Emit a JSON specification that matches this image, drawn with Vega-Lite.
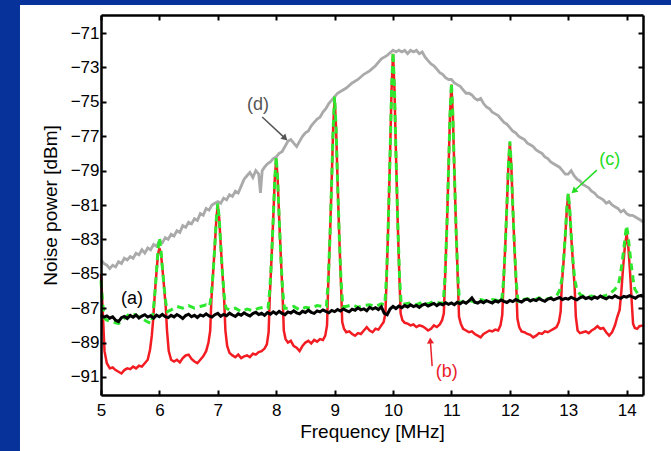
{
"$schema":"https://vega.github.io/schema/vega-lite/v6.json",
"width":542,"height":380,
"autosize":"none",
"padding":{"left":101,"top":15,"right":28,"bottom":56},
"background":"#07329a",
"config":{"view":{"stroke":null},"font":"Liberation Sans"},
"datasets":{
"d":[{"f":5.00,"v":-84.2},{"f":5.05,"v":-84.4},{"f":5.10,"v":-84.5},{"f":5.15,"v":-84.7},{"f":5.20,"v":-84.5},{"f":5.25,"v":-84.6},{"f":5.30,"v":-84.3},{"f":5.35,"v":-84.4},{"f":5.40,"v":-84.1},{"f":5.45,"v":-84.2},{"f":5.50,"v":-84.0},{"f":5.55,"v":-84.1},{"f":5.60,"v":-83.8},{"f":5.65,"v":-83.9},{"f":5.70,"v":-83.6},{"f":5.75,"v":-83.8},{"f":5.80,"v":-83.5},{"f":5.85,"v":-83.6},{"f":5.90,"v":-83.3},{"f":5.95,"v":-83.4},{"f":6.00,"v":-83.1},{"f":6.05,"v":-83.2},{"f":6.10,"v":-82.9},{"f":6.15,"v":-83.0},{"f":6.20,"v":-82.7},{"f":6.25,"v":-82.8},{"f":6.30,"v":-82.5},{"f":6.35,"v":-82.6},{"f":6.40,"v":-82.2},{"f":6.45,"v":-82.3},{"f":6.50,"v":-82.0},{"f":6.55,"v":-82.1},{"f":6.60,"v":-81.8},{"f":6.65,"v":-81.9},{"f":6.70,"v":-81.5},{"f":6.75,"v":-81.6},{"f":6.80,"v":-81.2},{"f":6.85,"v":-81.3},{"f":6.90,"v":-81.0},{"f":6.95,"v":-80.9},{"f":7.00,"v":-80.8},{"f":7.05,"v":-80.9},{"f":7.10,"v":-80.6},{"f":7.15,"v":-80.7},{"f":7.20,"v":-80.4},{"f":7.25,"v":-80.5},{"f":7.30,"v":-80.2},{"f":7.35,"v":-80.3},{"f":7.40,"v":-79.9},{"f":7.45,"v":-79.5},{"f":7.50,"v":-79.3},{"f":7.55,"v":-79.1},{"f":7.60,"v":-79.4},{"f":7.65,"v":-79.0},{"f":7.70,"v":-79.2},{"f":7.73,"v":-80.3},{"f":7.76,"v":-79.0},{"f":7.80,"v":-78.8},{"f":7.85,"v":-78.6},{"f":7.90,"v":-78.5},{"f":7.95,"v":-78.3},{"f":8.00,"v":-78.2},{"f":8.05,"v":-78.0},{"f":8.10,"v":-77.9},{"f":8.15,"v":-77.6},{"f":8.20,"v":-77.3},{"f":8.25,"v":-77.2},{"f":8.30,"v":-77.4},{"f":8.35,"v":-77.6},{"f":8.40,"v":-77.3},{"f":8.45,"v":-77.0},{"f":8.50,"v":-76.8},{"f":8.55,"v":-76.7},{"f":8.60,"v":-76.4},{"f":8.65,"v":-76.2},{"f":8.70,"v":-76.0},{"f":8.75,"v":-75.9},{"f":8.80,"v":-75.6},{"f":8.85,"v":-75.4},{"f":8.90,"v":-75.1},{"f":8.95,"v":-74.9},{"f":9.00,"v":-74.7},{"f":9.05,"v":-74.5},{"f":9.10,"v":-74.4},{"f":9.20,"v":-74.2},{"f":9.30,"v":-73.9},{"f":9.40,"v":-73.7},{"f":9.50,"v":-73.4},{"f":9.60,"v":-73.2},{"f":9.70,"v":-72.9},{"f":9.80,"v":-72.5},{"f":9.90,"v":-72.3},{"f":10.00,"v":-72.0},{"f":10.05,"v":-72.1},{"f":10.10,"v":-72.0},{"f":10.15,"v":-72.1},{"f":10.20,"v":-72.0},{"f":10.25,"v":-72.2},{"f":10.30,"v":-72.0},{"f":10.35,"v":-72.1},{"f":10.40,"v":-72.0},{"f":10.45,"v":-72.2},{"f":10.50,"v":-72.1},{"f":10.55,"v":-72.4},{"f":10.60,"v":-72.6},{"f":10.65,"v":-72.8},{"f":10.70,"v":-72.9},{"f":10.75,"v":-73.1},{"f":10.80,"v":-73.3},{"f":10.85,"v":-73.4},{"f":10.90,"v":-73.6},{"f":10.95,"v":-73.7},{"f":11.00,"v":-73.7},{"f":11.05,"v":-73.9},{"f":11.10,"v":-74.0},{"f":11.15,"v":-74.1},{"f":11.20,"v":-74.3},{"f":11.25,"v":-74.5},{"f":11.30,"v":-74.5},{"f":11.35,"v":-74.6},{"f":11.40,"v":-74.8},{"f":11.45,"v":-74.9},{"f":11.50,"v":-74.8},{"f":11.55,"v":-75.1},{"f":11.60,"v":-75.3},{"f":11.65,"v":-75.4},{"f":11.70,"v":-75.6},{"f":11.75,"v":-75.7},{"f":11.80,"v":-75.8},{"f":11.85,"v":-76.0},{"f":11.90,"v":-76.2},{"f":11.95,"v":-76.3},{"f":12.00,"v":-76.5},{"f":12.05,"v":-76.7},{"f":12.10,"v":-76.8},{"f":12.15,"v":-77.0},{"f":12.20,"v":-77.1},{"f":12.25,"v":-77.2},{"f":12.30,"v":-77.4},{"f":12.35,"v":-77.5},{"f":12.40,"v":-77.6},{"f":12.45,"v":-77.8},{"f":12.50,"v":-77.9},{"f":12.55,"v":-78.0},{"f":12.60,"v":-78.2},{"f":12.65,"v":-78.3},{"f":12.70,"v":-78.5},{"f":12.75,"v":-78.6},{"f":12.80,"v":-78.7},{"f":12.85,"v":-78.8},{"f":12.90,"v":-79.0},{"f":12.95,"v":-79.2},{"f":13.00,"v":-79.2},{"f":13.05,"v":-79.0},{"f":13.10,"v":-79.3},{"f":13.15,"v":-79.5},{"f":13.20,"v":-79.6},{"f":13.25,"v":-79.8},{"f":13.30,"v":-79.9},{"f":13.35,"v":-80.0},{"f":13.40,"v":-80.2},{"f":13.45,"v":-80.3},{"f":13.50,"v":-80.5},{"f":13.55,"v":-80.6},{"f":13.60,"v":-80.7},{"f":13.65,"v":-80.9},{"f":13.70,"v":-80.8},{"f":13.75,"v":-81.0},{"f":13.80,"v":-81.1},{"f":13.85,"v":-81.2},{"f":13.90,"v":-81.4},{"f":13.95,"v":-81.3},{"f":14.00,"v":-81.5},{"f":14.05,"v":-81.6},{"f":14.10,"v":-81.6},{"f":14.15,"v":-81.7},{"f":14.20,"v":-81.8},{"f":14.25,"v":-81.9},{"f":14.28,"v":-82.0}],
"b":[{"f":5.00,"v":-85.0},{"f":5.03,"v":-87.2},{"f":5.06,"v":-89.5},{"f":5.10,"v":-90.2},{"f":5.15,"v":-90.5},{"f":5.20,"v":-90.45},{"f":5.25,"v":-90.6},{"f":5.30,"v":-90.7},{"f":5.35,"v":-90.8},{"f":5.40,"v":-90.6},{"f":5.45,"v":-90.5},{"f":5.50,"v":-90.55},{"f":5.55,"v":-90.4},{"f":5.60,"v":-90.5},{"f":5.65,"v":-90.35},{"f":5.70,"v":-90.4},{"f":5.75,"v":-90.2},{"f":5.80,"v":-90.0},{"f":5.84,"v":-89.4},{"f":5.87,"v":-88.6},{"f":5.89,"v":-87.8},{"f":5.92,"v":-86.25},{"f":5.95,"v":-84.9},{"f":5.975,"v":-83.9},{"f":6.00,"v":-83.5},{"f":6.025,"v":-83.8},{"f":6.05,"v":-84.62},{"f":6.08,"v":-85.78},{"f":6.11,"v":-87.0},{"f":6.13,"v":-88.3},{"f":6.16,"v":-89.5},{"f":6.20,"v":-90.0},{"f":6.25,"v":-90.1},{"f":6.30,"v":-90.0},{"f":6.35,"v":-90.15},{"f":6.40,"v":-89.9},{"f":6.45,"v":-89.75},{"f":6.50,"v":-89.7},{"f":6.55,"v":-89.95},{"f":6.60,"v":-90.1},{"f":6.65,"v":-90.2},{"f":6.70,"v":-90.0},{"f":6.75,"v":-89.8},{"f":6.80,"v":-89.5},{"f":6.84,"v":-89.0},{"f":6.87,"v":-88.3},{"f":6.89,"v":-86.5},{"f":6.92,"v":-84.92},{"f":6.95,"v":-83.3},{"f":6.975,"v":-81.8},{"f":7.00,"v":-81.0},{"f":7.025,"v":-81.82},{"f":7.05,"v":-83.34},{"f":7.08,"v":-84.99},{"f":7.11,"v":-86.6},{"f":7.13,"v":-88.3},{"f":7.16,"v":-89.2},{"f":7.20,"v":-89.6},{"f":7.25,"v":-89.75},{"f":7.30,"v":-89.85},{"f":7.35,"v":-89.7},{"f":7.40,"v":-89.9},{"f":7.45,"v":-89.8},{"f":7.50,"v":-89.75},{"f":7.55,"v":-89.85},{"f":7.60,"v":-89.65},{"f":7.65,"v":-89.7},{"f":7.70,"v":-89.55},{"f":7.75,"v":-89.5},{"f":7.80,"v":-89.35},{"f":7.84,"v":-89.1},{"f":7.87,"v":-88.4},{"f":7.89,"v":-86.3},{"f":7.92,"v":-84.1},{"f":7.95,"v":-81.72},{"f":7.975,"v":-79.52},{"f":8.00,"v":-78.3},{"f":8.025,"v":-79.52},{"f":8.05,"v":-81.72},{"f":8.08,"v":-84.1},{"f":8.11,"v":-86.3},{"f":8.13,"v":-88.3},{"f":8.16,"v":-88.8},{"f":8.20,"v":-89.0},{"f":8.25,"v":-88.9},{"f":8.30,"v":-89.2},{"f":8.35,"v":-89.3},{"f":8.40,"v":-89.5},{"f":8.45,"v":-89.2},{"f":8.50,"v":-89.0},{"f":8.55,"v":-88.9},{"f":8.60,"v":-89.05},{"f":8.65,"v":-88.85},{"f":8.70,"v":-88.95},{"f":8.75,"v":-88.8},{"f":8.80,"v":-88.85},{"f":8.84,"v":-88.6},{"f":8.87,"v":-88.0},{"f":8.89,"v":-85.7},{"f":8.92,"v":-82.87},{"f":8.95,"v":-79.58},{"f":8.975,"v":-76.53},{"f":9.00,"v":-74.8},{"f":9.025,"v":-76.53},{"f":9.05,"v":-79.58},{"f":9.08,"v":-82.87},{"f":9.11,"v":-85.7},{"f":9.13,"v":-87.8},{"f":9.16,"v":-88.2},{"f":9.20,"v":-88.4},{"f":9.25,"v":-88.35},{"f":9.30,"v":-88.5},{"f":9.35,"v":-88.6},{"f":9.40,"v":-88.45},{"f":9.45,"v":-88.5},{"f":9.50,"v":-88.3},{"f":9.55,"v":-88.1},{"f":9.60,"v":-88.3},{"f":9.65,"v":-88.4},{"f":9.70,"v":-88.2},{"f":9.75,"v":-88.25},{"f":9.80,"v":-88.0},{"f":9.84,"v":-87.8},{"f":9.87,"v":-87.3},{"f":9.89,"v":-85.3},{"f":9.92,"v":-81.95},{"f":9.95,"v":-77.98},{"f":9.975,"v":-74.31},{"f":10.00,"v":-72.2},{"f":10.025,"v":-74.31},{"f":10.05,"v":-77.98},{"f":10.08,"v":-81.95},{"f":10.11,"v":-85.3},{"f":10.13,"v":-87.3},{"f":10.16,"v":-87.7},{"f":10.20,"v":-87.85},{"f":10.25,"v":-87.9},{"f":10.30,"v":-88.0},{"f":10.35,"v":-87.95},{"f":10.40,"v":-88.1},{"f":10.45,"v":-88.0},{"f":10.50,"v":-88.05},{"f":10.55,"v":-88.15},{"f":10.60,"v":-88.3},{"f":10.65,"v":-88.2},{"f":10.70,"v":-88.0},{"f":10.75,"v":-88.1},{"f":10.80,"v":-87.95},{"f":10.84,"v":-87.7},{"f":10.87,"v":-87.3},{"f":10.89,"v":-85.4},{"f":10.92,"v":-82.48},{"f":10.95,"v":-79.02},{"f":10.975,"v":-75.82},{"f":11.00,"v":-74.0},{"f":11.025,"v":-75.82},{"f":11.05,"v":-79.02},{"f":11.08,"v":-82.48},{"f":11.11,"v":-85.4},{"f":11.13,"v":-87.5},{"f":11.16,"v":-87.9},{"f":11.20,"v":-88.2},{"f":11.25,"v":-88.3},{"f":11.30,"v":-88.4},{"f":11.35,"v":-88.35},{"f":11.40,"v":-88.5},{"f":11.45,"v":-88.6},{"f":11.50,"v":-88.7},{"f":11.55,"v":-88.5},{"f":11.60,"v":-88.4},{"f":11.65,"v":-88.3},{"f":11.70,"v":-88.35},{"f":11.75,"v":-88.25},{"f":11.80,"v":-88.3},{"f":11.84,"v":-88.0},{"f":11.87,"v":-87.4},{"f":11.89,"v":-85.7},{"f":11.92,"v":-83.53},{"f":11.95,"v":-81.02},{"f":11.975,"v":-78.7},{"f":12.00,"v":-77.4},{"f":12.025,"v":-78.7},{"f":12.05,"v":-81.02},{"f":12.08,"v":-83.53},{"f":12.11,"v":-85.7},{"f":12.13,"v":-87.6},{"f":12.16,"v":-88.1},{"f":12.20,"v":-88.35},{"f":12.25,"v":-88.4},{"f":12.30,"v":-88.5},{"f":12.35,"v":-88.55},{"f":12.40,"v":-88.7},{"f":12.45,"v":-88.6},{"f":12.50,"v":-88.45},{"f":12.55,"v":-88.5},{"f":12.60,"v":-88.35},{"f":12.65,"v":-88.4},{"f":12.70,"v":-88.3},{"f":12.75,"v":-88.2},{"f":12.80,"v":-88.1},{"f":12.84,"v":-87.8},{"f":12.87,"v":-87.2},{"f":12.89,"v":-85.6},{"f":12.92,"v":-84.3},{"f":12.95,"v":-82.8},{"f":12.975,"v":-81.3},{"f":13.00,"v":-80.4},{"f":13.025,"v":-81.3},{"f":13.05,"v":-82.8},{"f":13.08,"v":-84.3},{"f":13.11,"v":-85.8},{"f":13.13,"v":-87.5},{"f":13.16,"v":-88.3},{"f":13.20,"v":-88.45},{"f":13.25,"v":-88.4},{"f":13.30,"v":-88.35},{"f":13.35,"v":-88.45},{"f":13.40,"v":-88.3},{"f":13.45,"v":-88.2},{"f":13.50,"v":-88.05},{"f":13.55,"v":-88.2},{"f":13.60,"v":-88.15},{"f":13.65,"v":-88.4},{"f":13.70,"v":-88.6},{"f":13.75,"v":-88.4},{"f":13.80,"v":-88.0},{"f":13.84,"v":-87.5},{"f":13.88,"v":-87.1},{"f":13.91,"v":-86.0},{"f":13.94,"v":-84.6},{"f":13.97,"v":-83.4},{"f":14.00,"v":-82.7},{"f":14.03,"v":-83.5},{"f":14.06,"v":-85.0},{"f":14.09,"v":-86.8},{"f":14.11,"v":-87.9},{"f":14.14,"v":-88.15},{"f":14.18,"v":-88.2},{"f":14.22,"v":-88.05},{"f":14.28,"v":-88.0}],
"c":[{"f":5.00,"v":-85.4},{"f":5.03,"v":-86.8},{"f":5.06,"v":-87.6},{"f":5.10,"v":-87.7},{"f":5.20,"v":-87.8},{"f":5.30,"v":-87.9},{"f":5.40,"v":-87.6},{"f":5.50,"v":-87.3},{"f":5.60,"v":-87.4},{"f":5.70,"v":-87.6},{"f":5.80,"v":-87.8},{"f":5.86,"v":-87.9},{"f":5.89,"v":-87.3},{"f":5.92,"v":-86.25},{"f":5.95,"v":-84.9},{"f":5.975,"v":-83.65},{"f":6.00,"v":-82.9},{"f":6.025,"v":-83.54},{"f":6.05,"v":-84.62},{"f":6.08,"v":-85.78},{"f":6.11,"v":-86.68},{"f":6.14,"v":-87.2},{"f":6.20,"v":-87.1},{"f":6.30,"v":-86.9},{"f":6.40,"v":-87.0},{"f":6.50,"v":-86.85},{"f":6.60,"v":-87.0},{"f":6.70,"v":-86.9},{"f":6.80,"v":-86.8},{"f":6.86,"v":-86.9},{"f":6.89,"v":-86.18},{"f":6.92,"v":-84.92},{"f":6.95,"v":-83.3},{"f":6.975,"v":-81.8},{"f":7.00,"v":-80.9},{"f":7.025,"v":-81.82},{"f":7.05,"v":-83.34},{"f":7.08,"v":-84.99},{"f":7.11,"v":-86.27},{"f":7.14,"v":-87.0},{"f":7.20,"v":-87.1},{"f":7.30,"v":-87.0},{"f":7.40,"v":-87.2},{"f":7.50,"v":-87.05},{"f":7.60,"v":-87.15},{"f":7.70,"v":-87.0},{"f":7.80,"v":-86.95},{"f":7.86,"v":-87.0},{"f":7.89,"v":-85.94},{"f":7.92,"v":-84.1},{"f":7.95,"v":-81.72},{"f":7.975,"v":-79.52},{"f":8.00,"v":-78.2},{"f":8.025,"v":-79.52},{"f":8.05,"v":-81.72},{"f":8.08,"v":-84.1},{"f":8.11,"v":-85.94},{"f":8.14,"v":-87.0},{"f":8.20,"v":-87.0},{"f":8.30,"v":-86.9},{"f":8.40,"v":-87.1},{"f":8.50,"v":-86.95},{"f":8.60,"v":-87.0},{"f":8.70,"v":-86.85},{"f":8.80,"v":-86.9},{"f":8.86,"v":-86.9},{"f":8.89,"v":-85.44},{"f":8.92,"v":-82.87},{"f":8.95,"v":-79.58},{"f":8.975,"v":-76.53},{"f":9.00,"v":-74.7},{"f":9.025,"v":-76.53},{"f":9.05,"v":-79.58},{"f":9.08,"v":-82.87},{"f":9.11,"v":-85.44},{"f":9.14,"v":-86.9},{"f":9.20,"v":-86.9},{"f":9.30,"v":-86.8},{"f":9.40,"v":-86.95},{"f":9.50,"v":-86.85},{"f":9.60,"v":-86.8},{"f":9.70,"v":-86.9},{"f":9.80,"v":-86.75},{"f":9.86,"v":-86.8},{"f":9.89,"v":-85.04},{"f":9.92,"v":-81.95},{"f":9.95,"v":-77.98},{"f":9.975,"v":-74.31},{"f":10.00,"v":-72.1},{"f":10.025,"v":-74.31},{"f":10.05,"v":-77.98},{"f":10.08,"v":-81.95},{"f":10.11,"v":-85.04},{"f":10.14,"v":-86.8},{"f":10.20,"v":-86.75},{"f":10.30,"v":-86.7},{"f":10.40,"v":-86.8},{"f":10.50,"v":-86.65},{"f":10.60,"v":-86.75},{"f":10.70,"v":-86.6},{"f":10.80,"v":-86.7},{"f":10.86,"v":-86.7},{"f":10.89,"v":-85.16},{"f":10.92,"v":-82.48},{"f":10.95,"v":-79.02},{"f":10.975,"v":-75.82},{"f":11.00,"v":-73.9},{"f":11.025,"v":-75.82},{"f":11.05,"v":-79.02},{"f":11.08,"v":-82.48},{"f":11.11,"v":-85.16},{"f":11.14,"v":-86.7},{"f":11.20,"v":-86.6},{"f":11.30,"v":-86.55},{"f":11.40,"v":-86.65},{"f":11.50,"v":-86.5},{"f":11.60,"v":-86.6},{"f":11.70,"v":-86.5},{"f":11.80,"v":-86.55},{"f":11.86,"v":-86.6},{"f":11.89,"v":-85.48},{"f":11.92,"v":-83.53},{"f":11.95,"v":-81.02},{"f":11.975,"v":-78.7},{"f":12.00,"v":-77.3},{"f":12.025,"v":-78.7},{"f":12.05,"v":-81.02},{"f":12.08,"v":-83.53},{"f":12.11,"v":-85.48},{"f":12.14,"v":-86.6},{"f":12.20,"v":-86.5},{"f":12.30,"v":-86.45},{"f":12.40,"v":-86.55},{"f":12.50,"v":-86.4},{"f":12.60,"v":-86.5},{"f":12.70,"v":-86.4},{"f":12.80,"v":-86.3},{"f":12.86,"v":-85.9},{"f":12.89,"v":-85.3},{"f":12.92,"v":-84.2},{"f":12.95,"v":-82.7},{"f":12.975,"v":-81.2},{"f":13.00,"v":-80.3},{"f":13.025,"v":-81.2},{"f":13.05,"v":-82.7},{"f":13.08,"v":-84.2},{"f":13.11,"v":-85.3},{"f":13.14,"v":-85.8},{"f":13.20,"v":-86.2},{"f":13.30,"v":-86.35},{"f":13.40,"v":-86.3},{"f":13.50,"v":-86.4},{"f":13.60,"v":-86.3},{"f":13.70,"v":-86.2},{"f":13.80,"v":-85.9},{"f":13.86,"v":-85.6},{"f":13.89,"v":-85.1},{"f":13.92,"v":-84.4},{"f":13.95,"v":-83.6},{"f":13.975,"v":-82.8},{"f":14.00,"v":-82.2},{"f":14.025,"v":-82.8},{"f":14.05,"v":-83.6},{"f":14.08,"v":-84.5},{"f":14.11,"v":-85.3},{"f":14.14,"v":-85.9},{"f":14.20,"v":-86.2},{"f":14.28,"v":-86.3}],
"a":[{"f":5.00,"v":-87.40},{"f":5.05,"v":-87.52},{"f":5.10,"v":-87.45},{"f":5.15,"v":-87.58},{"f":5.20,"v":-87.50},{"f":5.25,"v":-87.70},{"f":5.30,"v":-87.78},{"f":5.35,"v":-87.55},{"f":5.40,"v":-87.48},{"f":5.45,"v":-87.60},{"f":5.50,"v":-87.42},{"f":5.55,"v":-87.53},{"f":5.60,"v":-87.40},{"f":5.65,"v":-87.57},{"f":5.70,"v":-87.46},{"f":5.75,"v":-87.38},{"f":5.80,"v":-87.52},{"f":5.85,"v":-87.44},{"f":5.90,"v":-87.58},{"f":5.95,"v":-87.41},{"f":6.00,"v":-87.50},{"f":6.05,"v":-87.36},{"f":6.10,"v":-87.49},{"f":6.15,"v":-87.55},{"f":6.20,"v":-87.42},{"f":6.25,"v":-87.51},{"f":6.30,"v":-87.37},{"f":6.35,"v":-87.47},{"f":6.40,"v":-87.60},{"f":6.45,"v":-87.43},{"f":6.50,"v":-87.35},{"f":6.55,"v":-87.50},{"f":6.60,"v":-87.41},{"f":6.65,"v":-87.54},{"f":6.70,"v":-87.39},{"f":6.75,"v":-87.46},{"f":6.80,"v":-87.33},{"f":6.85,"v":-87.45},{"f":6.90,"v":-87.52},{"f":6.95,"v":-87.38},{"f":7.00,"v":-87.30},{"f":7.05,"v":-87.47},{"f":7.10,"v":-87.36},{"f":7.15,"v":-87.44},{"f":7.20,"v":-87.29},{"f":7.25,"v":-87.40},{"f":7.30,"v":-87.48},{"f":7.35,"v":-87.33},{"f":7.40,"v":-87.41},{"f":7.45,"v":-87.27},{"f":7.50,"v":-87.38},{"f":7.55,"v":-87.45},{"f":7.60,"v":-87.31},{"f":7.65,"v":-87.24},{"f":7.70,"v":-87.37},{"f":7.75,"v":-87.30},{"f":7.80,"v":-87.42},{"f":7.85,"v":-87.26},{"f":7.90,"v":-87.35},{"f":7.95,"v":-87.21},{"f":8.00,"v":-87.33},{"f":8.05,"v":-87.19},{"f":8.10,"v":-87.30},{"f":8.15,"v":-87.38},{"f":8.20,"v":-87.22},{"f":8.25,"v":-87.28},{"f":8.30,"v":-87.15},{"f":8.35,"v":-87.27},{"f":8.40,"v":-87.33},{"f":8.45,"v":-87.18},{"f":8.50,"v":-87.25},{"f":8.55,"v":-87.12},{"f":8.60,"v":-87.24},{"f":8.65,"v":-87.30},{"f":8.70,"v":-87.16},{"f":8.75,"v":-87.22},{"f":8.80,"v":-87.10},{"f":8.85,"v":-87.19},{"f":8.90,"v":-87.27},{"f":8.95,"v":-87.13},{"f":9.00,"v":-87.20},{"f":9.05,"v":-87.08},{"f":9.10,"v":-87.17},{"f":9.15,"v":-87.05},{"f":9.20,"v":-87.14},{"f":9.25,"v":-87.21},{"f":9.30,"v":-87.06},{"f":9.35,"v":-87.12},{"f":9.40,"v":-86.98},{"f":9.45,"v":-87.10},{"f":9.50,"v":-87.04},{"f":9.55,"v":-87.15},{"f":9.60,"v":-86.95},{"f":9.65,"v":-87.05},{"f":9.70,"v":-86.97},{"f":9.75,"v":-87.08},{"f":9.80,"v":-86.92},{"f":9.85,"v":-87.30},{"f":9.90,"v":-87.38},{"f":9.95,"v":-87.05},{"f":10.00,"v":-86.90},{"f":10.05,"v":-87.02},{"f":10.10,"v":-86.88},{"f":10.15,"v":-86.97},{"f":10.20,"v":-86.85},{"f":10.25,"v":-86.93},{"f":10.30,"v":-86.80},{"f":10.35,"v":-86.91},{"f":10.40,"v":-86.84},{"f":10.45,"v":-86.95},{"f":10.50,"v":-86.82},{"f":10.55,"v":-86.76},{"f":10.60,"v":-86.88},{"f":10.65,"v":-86.79},{"f":10.70,"v":-86.72},{"f":10.75,"v":-86.85},{"f":10.80,"v":-86.74},{"f":10.85,"v":-86.80},{"f":10.90,"v":-86.68},{"f":10.95,"v":-86.78},{"f":11.00,"v":-86.70},{"f":11.05,"v":-86.80},{"f":11.10,"v":-86.66},{"f":11.15,"v":-86.74},{"f":11.20,"v":-86.62},{"f":11.25,"v":-86.71},{"f":11.30,"v":-86.58},{"f":11.35,"v":-86.40},{"f":11.40,"v":-86.65},{"f":11.45,"v":-86.70},{"f":11.50,"v":-86.60},{"f":11.55,"v":-86.68},{"f":11.60,"v":-86.56},{"f":11.65,"v":-86.63},{"f":11.70,"v":-86.70},{"f":11.75,"v":-86.57},{"f":11.80,"v":-86.64},{"f":11.85,"v":-86.52},{"f":11.90,"v":-86.60},{"f":11.95,"v":-86.67},{"f":12.00,"v":-86.55},{"f":12.05,"v":-86.62},{"f":12.10,"v":-86.50},{"f":12.15,"v":-86.58},{"f":12.20,"v":-86.64},{"f":12.25,"v":-86.52},{"f":12.30,"v":-86.47},{"f":12.35,"v":-86.58},{"f":12.40,"v":-86.50},{"f":12.45,"v":-86.56},{"f":12.50,"v":-86.44},{"f":12.55,"v":-86.53},{"f":12.60,"v":-86.60},{"f":12.65,"v":-86.47},{"f":12.70,"v":-86.42},{"f":12.75,"v":-86.52},{"f":12.80,"v":-86.45},{"f":12.85,"v":-86.38},{"f":12.90,"v":-86.50},{"f":12.95,"v":-86.43},{"f":13.00,"v":-86.48},{"f":13.05,"v":-86.36},{"f":13.10,"v":-86.45},{"f":13.15,"v":-86.52},{"f":13.20,"v":-86.40},{"f":13.25,"v":-86.33},{"f":13.30,"v":-86.44},{"f":13.35,"v":-86.38},{"f":13.40,"v":-86.47},{"f":13.45,"v":-86.35},{"f":13.50,"v":-86.42},{"f":13.55,"v":-86.30},{"f":13.60,"v":-86.39},{"f":13.65,"v":-86.46},{"f":13.70,"v":-86.34},{"f":13.75,"v":-86.40},{"f":13.80,"v":-86.28},{"f":13.85,"v":-86.37},{"f":13.90,"v":-86.43},{"f":13.95,"v":-86.31},{"f":14.00,"v":-86.36},{"f":14.05,"v":-86.27},{"f":14.10,"v":-86.35},{"f":14.15,"v":-86.42},{"f":14.20,"v":-86.30},{"f":14.25,"v":-86.26},{"f":14.28,"v":-86.33}],
"notes":[{"s":"a","t":"(a)","x":5.53,"y":-86.47},{"s":"b","t":"(b)","x":10.92,"y":-90.72},{"s":"c","t":"(c)","x":13.71,"y":-78.39},{"s":"d","t":"(d)","x":7.69,"y":-75.19}],
"arrows":[{"s":"b","x":10.67,"y":-90.37,"x2":10.64,"y2":-88.94},{"s":"c","x":13.49,"y":-78.97,"x2":13.108,"y2":-80.16},{"s":"d","x":7.76,"y":-75.88,"x2":8.14,"y2":-77.08}]
},
"resolve":{"axis":{"x":"independent","y":"independent"}},
"layer":[
{"data":{"values":[{}]},"mark":{"type":"rect","color":"white"},
 "encoding":{"x":{"datum":3.613,"type":"quantitative","scale":{"domain":[5,14.28],"nice":false,"zero":false},"axis":null},"x2":{"datum":16},
 "y":{"datum":-69.37,"type":"quantitative","scale":{"domain":[-92.05,-69.95],"nice":false,"zero":false},"axis":null},"y2":{"datum":-100}}},
{"data":{"name":"d"},"mark":{"type":"line","color":"#aaaaaa","strokeWidth":2.8},
 "encoding":{"x":{"field":"f","type":"quantitative","scale":{"domain":[5,14.28],"nice":false,"zero":false},"axis":{"orient":"bottom","zindex":1,"grid":false,"domainColor":"#000000","domainWidth":2.5,"tickColor":"#000000","tickWidth":2,"tickSize":-5,"values":[5,6,7,8,9,10,11,12,13,14],"format":"d","labelFont":"Liberation Sans","labelFontSize":17,"labelColor":"#000000","labelFlush":false,"labelOverlap":false,"labelPadding":12,"title":"Frequency [MHz]","titleFont":"Liberation Sans","titleFontSize":19,"titleFontWeight":"normal","titleColor":"#000000","titlePadding":4}},
 "y":{"field":"v","type":"quantitative","scale":{"domain":[-92.05,-69.95],"nice":false,"zero":false},"axis":{"orient":"left","zindex":1,"grid":false,"domainColor":"#000000","domainWidth":2.5,"tickColor":"#000000","tickWidth":2,"tickSize":-5,"values":[-91,-89,-87,-85,-83,-81,-79,-77,-75,-73,-71],"labelExpr":"'\u2212' + format(abs(datum.value), 'd')","labelFont":"Liberation Sans","labelFontSize":17,"labelColor":"#000000","labelFlush":false,"labelOverlap":false,"labelPadding":7,"title":"Noise power [dBm]","titleFont":"Liberation Sans","titleFontSize":19,"titleFontWeight":"normal","titleColor":"#000000","titlePadding":10}}}},
{"data":{"name":"b"},"mark":{"type":"line","color":"#f21c22","strokeWidth":2.5},
 "encoding":{"x":{"field":"f","type":"quantitative","scale":{"domain":[5,14.28],"nice":false,"zero":false},"axis":null},
 "y":{"field":"v","type":"quantitative","scale":{"domain":[-92.05,-69.95],"nice":false,"zero":false},"axis":null}}},
{"data":{"name":"c"},"mark":{"type":"line","color":"#2ee82e","strokeWidth":3,"strokeDash":[7,5]},
 "encoding":{"x":{"field":"f","type":"quantitative","scale":{"domain":[5,14.28],"nice":false,"zero":false},"axis":null},
 "y":{"field":"v","type":"quantitative","scale":{"domain":[-92.05,-69.95],"nice":false,"zero":false},"axis":null}}},
{"data":{"name":"a"},"mark":{"type":"line","color":"#000000","strokeWidth":3},
 "encoding":{"x":{"field":"f","type":"quantitative","scale":{"domain":[5,14.28],"nice":false,"zero":false},"axis":null},
 "y":{"field":"v","type":"quantitative","scale":{"domain":[-92.05,-69.95],"nice":false,"zero":false},"axis":null}}},
{"data":{"name":"arrows"},"mark":{"type":"rule","strokeWidth":1.5},
 "encoding":{"x":{"field":"x","type":"quantitative","scale":{"domain":[5,14.28],"nice":false,"zero":false},"axis":null},"x2":{"field":"x2"},
 "y":{"field":"y","type":"quantitative","scale":{"domain":[-92.05,-69.95],"nice":false,"zero":false},"axis":null},"y2":{"field":"y2"},
 "color":{"field":"s","type":"nominal","scale":{"domain":["a","b","c","d"],"range":["#000000","#e8202a","#22dd22","#555555"]},"legend":null}}},
{"data":{"name":"arrows"},"transform":[{"filter":"datum.s == 'b'"}],"mark":{"type":"point","shape":"triangle","filled":true,"size":50,"opacity":1,"angle":356},
 "encoding":{"x":{"field":"x2","type":"quantitative","scale":{"domain":[5,14.28],"nice":false,"zero":false},"axis":null},
 "y":{"field":"y2","type":"quantitative","scale":{"domain":[-92.05,-69.95],"nice":false,"zero":false},"axis":null},
 "color":{"field":"s","type":"nominal","scale":{"domain":["a","b","c","d"],"range":["#000000","#e8202a","#22dd22","#555555"]},"legend":null}}},
{"data":{"name":"arrows"},"transform":[{"filter":"datum.s == 'c'"}],"mark":{"type":"point","shape":"triangle","filled":true,"size":50,"opacity":1,"angle":227},
 "encoding":{"x":{"field":"x2","type":"quantitative","scale":{"domain":[5,14.28],"nice":false,"zero":false},"axis":null},
 "y":{"field":"y2","type":"quantitative","scale":{"domain":[-92.05,-69.95],"nice":false,"zero":false},"axis":null},
 "color":{"field":"s","type":"nominal","scale":{"domain":["a","b","c","d"],"range":["#000000","#e8202a","#22dd22","#555555"]},"legend":null}}},
{"data":{"name":"arrows"},"transform":[{"filter":"datum.s == 'd'"}],"mark":{"type":"point","shape":"triangle","filled":true,"size":50,"opacity":1,"angle":133},
 "encoding":{"x":{"field":"x2","type":"quantitative","scale":{"domain":[5,14.28],"nice":false,"zero":false},"axis":null},
 "y":{"field":"y2","type":"quantitative","scale":{"domain":[-92.05,-69.95],"nice":false,"zero":false},"axis":null},
 "color":{"field":"s","type":"nominal","scale":{"domain":["a","b","c","d"],"range":["#000000","#e8202a","#22dd22","#555555"]},"legend":null}}},
{"data":{"name":"notes"},"mark":{"type":"text","fontSize":18,"font":"Liberation Sans","align":"center","baseline":"middle"},
 "encoding":{"x":{"field":"x","type":"quantitative","scale":{"domain":[5,14.28],"nice":false,"zero":false},"axis":null},
 "y":{"field":"y","type":"quantitative","scale":{"domain":[-92.05,-69.95],"nice":false,"zero":false},"axis":null},
 "text":{"field":"t"},
 "color":{"field":"s","type":"nominal","scale":{"domain":["a","b","c","d"],"range":["#000000","#e8202a","#22dd22","#555555"]},"legend":null}}},
{"data":{"name":"d"},"mark":{"type":"line","opacity":0},
 "encoding":{"x":{"field":"f","type":"quantitative","scale":{"domain":[5,14.28],"nice":false,"zero":false},"axis":{"orient":"top","zindex":1,"grid":false,"domainColor":"#000000","domainWidth":2.5,"tickColor":"#000000","tickWidth":2,"tickSize":-5,"values":[5,6,7,8,9,10,11,12,13,14],"labels":false,"title":null}},
 "y":{"field":"v","type":"quantitative","scale":{"domain":[-92.05,-69.95],"nice":false,"zero":false},"axis":{"orient":"right","zindex":1,"grid":false,"domainColor":"#000000","domainWidth":2.5,"tickColor":"#000000","tickWidth":2,"tickSize":-5,"values":[-91,-89,-87,-85,-83,-81,-79,-77,-75,-73,-71],"labels":false,"title":null}}}}
]
}
